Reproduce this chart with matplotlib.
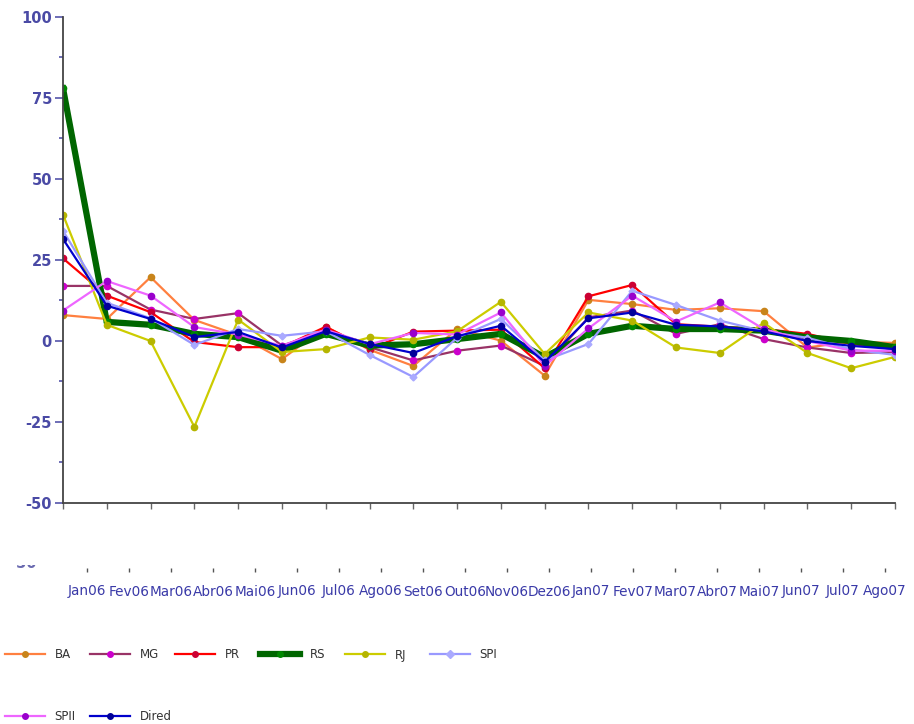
import matplotlib
matplotlib.use("Agg")
import matplotlib.pyplot as plt
from matplotlib.lines import Line2D
from matplotlib.transforms import Bbox, TransformedBbox
from matplotlib.ticker import MultipleLocator

plt.rcParams["axes.unicode_minus"] = False

months = ["Jan06", "Fev06", "Mar06", "Abr06", "Mai06", "Jun06", "Jul06", "Ago06",
          "Set06", "Out06", "Nov06", "Dez06", "Jan07", "Fev07", "Mar07", "Abr07",
          "Mai07", "Jun07", "Jul07", "Ago07"]

BA    = [8.0, 6.8, 19.7, 6.5, 1.8, -5.6, 4.4, -2.7, -7.7, 3.7, 0.1, -10.7, 12.7, 11.4, 9.6, 10.1, 9.2, -2.0, -0.2, -0.6]
MG    = [17.0, 17.0, 9.7, 6.8, 8.6, -1.4, 3.0, -1.9, -6.0, -3.0, -1.4, -7.7, 7.3, 9.4, 2.2, 5.2, 0.6, -2.0, -3.7, -3.4]
PR    = [25.5, 14.0, 8.9, -0.3, -1.9, -1.9, 4.4, -2.5, 2.9, 3.2, 3.5, -8.4, 13.8, 17.3, 5.2, 4.4, 3.7, 2.2, -0.9, -2.5]
RS    = [78.0, 5.9, 5.0, 2.2, 1.2, -3.0, 2.2, -1.4, -1.0, 0.6, 2.2, -5.0, 2.2, 4.7, 3.7, 3.7, 3.2, 1.1, 0.0, -1.9]
RJ    = [39.0, 5.0, 0.0, -26.5, 6.6, -3.4, -2.5, 1.1, 0.4, 3.0, 12.1, -4.0, 8.8, 6.3, -2.0, -3.7, 5.6, -3.7, -8.4, -4.9]
SPI   = [34.0, 11.8, 7.0, -1.2, 3.7, 1.6, 3.0, -4.3, -11.1, 1.0, 6.8, -6.0, -0.9, 15.5, 11.1, 6.3, 3.0, 1.0, -2.6, -4.3]
SPII  = [9.4, 18.5, 14.0, 4.3, 2.0, -1.5, 3.5, -1.0, 2.5, 2.0, 8.8, -7.7, 3.9, 14.0, 6.0, 11.9, 3.7, 0.0, -3.0, -3.0]
Dired = [31.5, 10.9, 6.8, 1.2, 2.8, -2.0, 3.0, -0.9, -3.7, 1.5, 4.7, -6.5, 7.0, 8.8, 5.0, 4.5, 3.0, 0.0, -1.5, -2.5]

series = [
    ("BA", BA, "#ff8040", "#c8841a", 1.6, "o"),
    ("MG", MG, "#993366", "#cc00cc", 1.6, "o"),
    ("PR", PR, "#ff0000", "#cc0033", 1.6, "o"),
    ("RS", RS, "#006600", "#008800", 4.5, "o"),
    ("RJ", RJ, "#cccc00", "#b5b500", 1.6, "o"),
    ("SPI", SPI, "#9999ff", "#aaaaff", 1.6, "D"),
    ("SPII", SPII, "#ee66ff", "#9900cc", 1.6, "o"),
    ("Dired", Dired, "#0000cc", "#000099", 1.6, "o"),
]

W, H = 914, 724
fig = plt.figure(figsize=(W / 100, H / 100), dpi=100)
fig.patch.set_facecolor("white")

ax = fig.add_axes([63 / W, (H - 503) / H, 832 / W, 486 / H])
x = list(range(len(months)))
handles = []
for name, vals, lc, mc, lw, mk in series:
    h, = ax.plot(x, vals, color=lc, lw=lw, marker=mk, markersize=4.5 if mk == "o" else 3.5,
                 markerfacecolor=mc, markeredgecolor=mc, label=name, solid_joinstyle="round")
    handles.append(h)

ax.set_xlim(0, len(months) - 1)
ax.set_ylim(-50, 100)
ax.yaxis.set_major_locator(MultipleLocator(25))
ax.yaxis.set_minor_locator(MultipleLocator(12.5))
ax.set_xticks(x)
ax.set_xticklabels([])
for s in ["top", "right"]:
    ax.spines[s].set_visible(False)
for s in ["left", "bottom"]:
    ax.spines[s].set_color("#444444")
    ax.spines[s].set_linewidth(1.3)
ax.tick_params(axis="y", which="major", length=6, width=1.2, color="#5555aa",
               labelcolor="#4a4aa5", labelsize=10.5, pad=2)
ax.tick_params(axis="y", which="minor", length=3, width=1.2, color="#5555aa")
ax.tick_params(axis="x", which="major", length=4, width=1.0, color="#666666")
for t in ax.get_yticklabels():
    t.set_fontweight("bold")

# lower category-label axis
ax2 = fig.add_axes([66 / W, (H - 572) / H, 840 / W, 0.0001])
ax2.set_xlim(-0.5, len(months) - 0.5)
ax2.set_ylim(0, 1)
for s in ax2.spines.values():
    s.set_visible(False)
ax2.set_yticks([])
ax2.set_xticks(x)
ax2.set_xticklabels(months)
ax2.tick_params(axis="x", length=3, width=1.0, color="#555555", direction="in",
                labelcolor="#3a3aa8", labelsize=9.8, pad=9)
ax2.patch.set_visible(False)

# clipped remnant of "-50" label
t = fig.text(37 / W, (H - 564) / H, "-50", ha="right", va="center", color="#6a6ab0",
             fontsize=10.5, fontweight="bold")
t.set_clip_box(TransformedBbox(Bbox([[0, 0], [60 / W, (H - 565) / H]]), fig.transFigure))
t.set_clip_on(True)

# legend entries
pos = [(5, 655), (90, 655), (175, 655), (260, 655), (345, 655), (430, 655), (5, 717), (90, 717)]
fs = 8.5
for h, (px, py) in zip(handles, pos):
    lh = Line2D([], [], color=h.get_color(), lw=h.get_linewidth(), marker=h.get_marker(),
                markersize=4, markerfacecolor=h.get_markerfacecolor(),
                markeredgecolor=h.get_markeredgecolor())
    fig.legend(handles=[lh], labels=[h.get_label()], loc="center left",
               bbox_to_anchor=(px / W, (H - py) / H), frameon=False, fontsize=fs,
               handlelength=40 / (fs * 100 / 72), handletextpad=0.8, borderpad=0,
               borderaxespad=0, labelcolor="#333333")

fig.savefig("out.png", dpi=100)
